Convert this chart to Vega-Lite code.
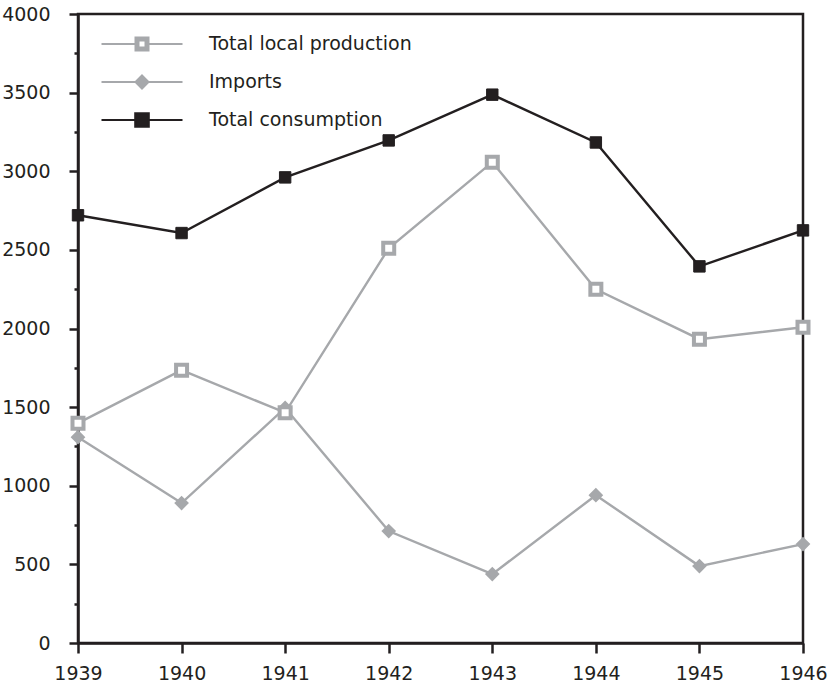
{
  "$schema": "https://vega.github.io/schema/vega-lite/v6.json",
  "width": 725,
  "height": 629,
  "autosize": {"type": "none"},
  "padding": {"left": 78, "top": 14, "right": 27, "bottom": 44},
  "background": "white",
  "config": {
    "view": {"stroke": "#231f20", "strokeWidth": 2.5},
    "font": "DejaVu Sans",
    "axis": {
      "grid": false,
      "labelFont": "DejaVu Sans",
      "labelFontSize": 19,
      "labelColor": "#231f20",
      "domainColor": "#231f20",
      "domainWidth": 2.5,
      "tickColor": "#231f20",
      "tickWidth": 2.5,
      "title": null
    }
  },
  "data": {
    "values": [
      {"year": 1939, "series": "Imports", "value": 1309},
      {"year": 1940, "series": "Imports", "value": 890},
      {"year": 1941, "series": "Imports", "value": 1495},
      {"year": 1942, "series": "Imports", "value": 712},
      {"year": 1943, "series": "Imports", "value": 438},
      {"year": 1944, "series": "Imports", "value": 940},
      {"year": 1945, "series": "Imports", "value": 489},
      {"year": 1946, "series": "Imports", "value": 629},
      {"year": 1939, "series": "Total local production", "value": 1398},
      {"year": 1940, "series": "Total local production", "value": 1735},
      {"year": 1941, "series": "Total local production", "value": 1465},
      {"year": 1942, "series": "Total local production", "value": 2510},
      {"year": 1943, "series": "Total local production", "value": 3058},
      {"year": 1944, "series": "Total local production", "value": 2249},
      {"year": 1945, "series": "Total local production", "value": 1932},
      {"year": 1946, "series": "Total local production", "value": 2008},
      {"year": 1939, "series": "Total consumption", "value": 2720},
      {"year": 1940, "series": "Total consumption", "value": 2607},
      {"year": 1941, "series": "Total consumption", "value": 2961},
      {"year": 1942, "series": "Total consumption", "value": 3196},
      {"year": 1943, "series": "Total consumption", "value": 3487},
      {"year": 1944, "series": "Total consumption", "value": 3183},
      {"year": 1945, "series": "Total consumption", "value": 2395},
      {"year": 1946, "series": "Total consumption", "value": 2624}
    ]
  },
  "encoding": {
    "x": {
      "field": "year",
      "type": "quantitative",
      "scale": {"domain": [1939, 1946], "nice": false, "zero": false},
      "axis": {
        "values": [1939, 1939.5, 1940, 1940.5, 1941, 1941.5, 1942, 1942.5, 1943, 1943.5, 1944, 1944.5, 1945, 1945.5, 1946],
        "format": "d",
        "labelExpr": "datum.value % 1 == 0 ? datum.label : ''",
        "tickSize": {"condition": {"test": "datum.value % 1 == 0", "value": 10}, "value": 4},
        "labelPadding": 11,
        "labelFlush": false,
        "labelOverlap": false
      }
    },
    "y": {
      "field": "value",
      "type": "quantitative",
      "scale": {"domain": [0, 4000], "nice": false},
      "axis": {
        "values": [0, 250, 500, 750, 1000, 1250, 1500, 1750, 2000, 2250, 2500, 2750, 3000, 3250, 3500, 3750, 4000],
        "format": "d",
        "labelExpr": "datum.value % 500 == 0 ? datum.label : ''",
        "tickSize": {"condition": {"test": "datum.value % 500 == 0", "value": 9}, "value": 4},
        "labelPadding": 19,
        "labelFlush": false,
        "labelOverlap": false
      }
    }
  },
  "layer": [
    {
      "mark": {"type": "line", "strokeWidth": 2.4},
      "encoding": {
        "color": {
          "field": "series",
          "type": "nominal",
          "scale": {
            "domain": ["Total local production", "Imports", "Total consumption"],
            "range": ["#a6a8ab", "#a6a8ab", "#231f20"]
          },
          "legend": null
        }
      }
    },
    {
      "mark": {"type": "point", "filled": true, "opacity": 1},
      "encoding": {
        "shape": {
          "field": "series",
          "type": "nominal",
          "scale": {
            "domain": ["Total local production", "Imports", "Total consumption"],
            "range": ["square", "diamond", "square"]
          },
          "legend": null
        },
        "fill": {
          "field": "series",
          "type": "nominal",
          "scale": {
            "domain": ["Total local production", "Imports", "Total consumption"],
            "range": ["#ffffff", "#a6a8ab", "#231f20"]
          },
          "legend": null
        },
        "stroke": {
          "field": "series",
          "type": "nominal",
          "scale": {
            "domain": ["Total local production", "Imports", "Total consumption"],
            "range": ["#a6a8ab", "#a6a8ab", "#231f20"]
          },
          "legend": null
        },
        "size": {
          "field": "series",
          "type": "nominal",
          "scale": {
            "domain": ["Total local production", "Imports", "Total consumption"],
            "range": [121, 130, 169]
          },
          "legend": null
        },
        "strokeWidth": {
          "field": "series",
          "type": "nominal",
          "scale": {
            "domain": ["Total local production", "Imports", "Total consumption"],
            "range": [4, 1, 1]
          },
          "legend": null
        }
      }
    },
    {
      "mark": {"type": "point", "filled": true, "opacity": 0},
      "encoding": {
        "shape": {
          "field": "series",
          "type": "nominal",
          "scale": {
            "domain": ["Total local production", "Imports", "Total consumption"],
            "range": [
              "M-4.05,0H-0.65M0.65,0H4.05M-0.65,-0.65H0.65V0.65H-0.65ZM-0.35,-0.35V0.35H0.35V-0.35Z",
              "M-4.05,0H-0.65M0.65,0H4.05M0,-0.65L0.65,0L0,0.65L-0.65,0Z",
              "M-4.05,0H-0.68M0.68,0H4.05M-0.68,-0.68H0.68V0.68H-0.68Z"
            ]
          },
          "legend": {
            "orient": "none",
            "legendX": 53,
            "legendY": 19,
            "title": null,
            "padding": 0,
            "symbolSize": 400,
            "symbolStrokeWidth": 2,
            "symbolOpacity": 1,
            "labelOffset": 56,
            "rowPadding": 16,
            "labelFont": "DejaVu Sans",
            "labelFontSize": 19,
            "labelColor": "#231f20",
            "labelLimit": 400
          }
        },
        "fill": {
          "field": "series",
          "type": "nominal",
          "scale": {
            "domain": ["Total local production", "Imports", "Total consumption"],
            "range": ["#a6a8ab", "#a6a8ab", "#231f20"]
          }
        },
        "stroke": {
          "field": "series",
          "type": "nominal",
          "scale": {
            "domain": ["Total local production", "Imports", "Total consumption"],
            "range": ["#a6a8ab", "#a6a8ab", "#231f20"]
          }
        }
      }
    }
  ],
  "resolve": {
    "scale": {"shape": "independent", "fill": "independent", "stroke": "independent"}
  }
}
